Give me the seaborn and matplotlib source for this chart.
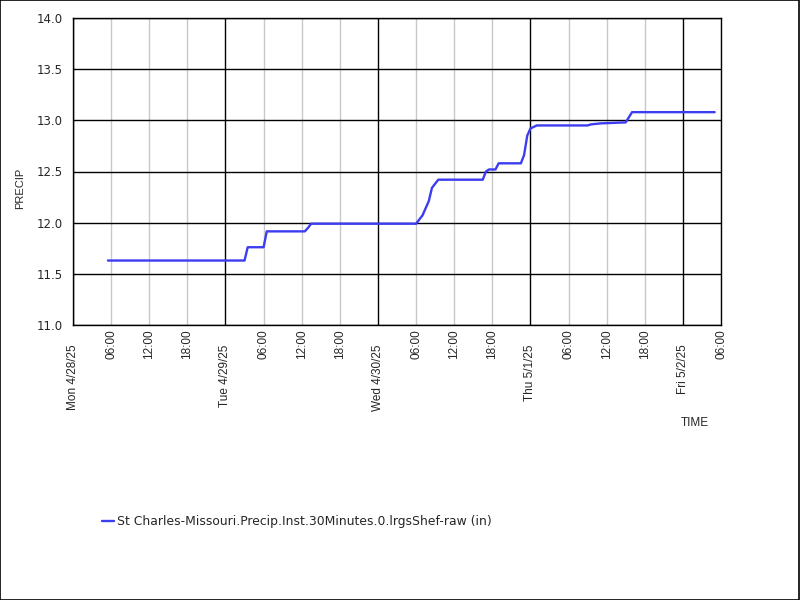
import pandas as pd
import numpy as np
import matplotlib
matplotlib.use('Agg')
import matplotlib.pyplot as plt
import matplotlib.dates as mdates
from matplotlib.patches import Rectangle
import seaborn as sns

# Data (30-minute precip accumulation, inches)
times = [
    '2025-04-28 05:30', '2025-04-29 03:00', '2025-04-29 03:30', '2025-04-29 06:00',
    '2025-04-29 06:30', '2025-04-29 12:30', '2025-04-29 13:00', '2025-04-29 13:30',
    '2025-04-30 06:00', '2025-04-30 07:00', '2025-04-30 07:30', '2025-04-30 08:00',
    '2025-04-30 08:30', '2025-04-30 09:30', '2025-04-30 16:30', '2025-04-30 17:00',
    '2025-04-30 17:30', '2025-04-30 18:30', '2025-04-30 19:00', '2025-04-30 22:30',
    '2025-04-30 23:00', '2025-04-30 23:30', '2025-05-01 00:00', '2025-05-01 01:00',
    '2025-05-01 09:00', '2025-05-01 09:30', '2025-05-01 11:00', '2025-05-01 15:00',
    '2025-05-01 16:00', '2025-05-02 05:00',
]
precip = [
    11.63, 11.63, 11.76, 11.76,
    11.915, 11.915, 11.95, 11.99,
    11.99, 12.07, 12.14, 12.21,
    12.34, 12.42, 12.42, 12.50,
    12.52, 12.52, 12.58, 12.58,
    12.66, 12.85, 12.92, 12.95,
    12.95, 12.96, 12.97, 12.98,
    13.08, 13.08,
]
series_name = 'St Charles-Missouri.Precip.Inst.30Minutes.0.lrgsShef-raw (in)'
y_ticks = [11.0, 11.5, 12.0, 12.5, 13.0, 13.5, 14.0]

df = pd.DataFrame({'time': pd.to_datetime(times), 'precip': precip})

sns.set_style('white')
plt.rcParams['font.family'] = ['DejaVu Sans']

fig = plt.figure(figsize=(8, 6), dpi=100)
ax = fig.add_axes([73 / 800, 1 - 325 / 600, 648 / 800, 307 / 600])

sns.lineplot(data=df, x='time', y='precip', ax=ax, color='#3c3cf0',
             linewidth=1.7, label=series_name, zorder=5)

ax.set_xlim(pd.Timestamp('2025-04-28 00:00'), pd.Timestamp('2025-05-02 06:00'))
ax.set_ylim(11.0, 14.0)
ax.set_yticks(y_ticks)
ax.set_yticklabels([f'{v:.1f}' for v in y_ticks], fontsize=8.5)

# x axis: day ticks (major) and 6-hour ticks (minor)
ax.xaxis.set_major_locator(mdates.DayLocator())
ax.xaxis.set_major_formatter(mdates.DateFormatter('%a %-m/%-d/%y'))
ax.xaxis.set_minor_locator(mdates.HourLocator(byhour=[6, 12, 18]))
ax.xaxis.set_minor_formatter(mdates.DateFormatter('%H:%M'))
for lab in ax.get_xticklabels(which='both'):
    lab.set_rotation(90)
    lab.set_fontfamily('Liberation Sans')
    lab.set_fontsize(8.5)
ax.tick_params(axis='x', which='major', length=13, width=1, color='black', pad=1)
ax.tick_params(axis='x', which='minor', length=0, pad=3)
ax.tick_params(axis='y', length=4.5, width=1, color='black', pad=3)

ax.grid(False)
ax.grid(True, axis='x', which='minor', color='#c8c8c8', linewidth=1)
ax.grid(True, axis='x', which='major', color='black', linewidth=1)
ax.grid(True, axis='y', which='major', color='black', linewidth=1)
ax.set_axisbelow(True)
for s in ax.spines.values():
    s.set_color('black')
    s.set_linewidth(1)

ax.set_xlabel('')
ax.set_ylabel('')
fig.text(20 / 800, 1 - 188 / 600, 'PRECIP', rotation=90, ha='center', va='center',
         fontsize=8, family='Liberation Sans')
fig.text(695 / 800, 1 - 423 / 600, 'TIME', ha='center', va='center',
         fontsize=8.5, family='Liberation Sans')

ax.legend(loc='center left', bbox_to_anchor=(102 / 800, 1 - 522 / 600),
          bbox_transform=fig.transFigure, frameon=False, fontsize=8.9,
          handlelength=1.0, handletextpad=0.25, borderpad=0, borderaxespad=0)

fig.patches.append(Rectangle((0.0005, 0.0008), 0.998, 0.9984, transform=fig.transFigure,
                             fill=False, edgecolor='black', linewidth=1.2))

fig.savefig('out.png', dpi=100)
